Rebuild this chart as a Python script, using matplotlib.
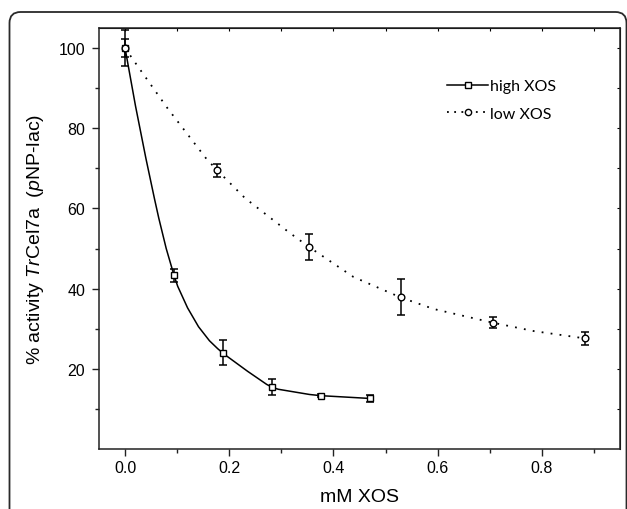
import numpy as np
import matplotlib
matplotlib.use("Agg")
import matplotlib.pyplot as plt
from matplotlib.patches import FancyBboxPatch
from matplotlib.lines import Line2D
from matplotlib.transforms import IdentityTransform

plt.rcParams['font.family'] = ['Liberation Sans', 'DejaVu Sans']
plt.rcParams['mathtext.fontset'] = 'custom'
plt.rcParams['mathtext.rm'] = 'Liberation Sans'
plt.rcParams['mathtext.it'] = 'Liberation Sans:italic'

# measured points (mM XOS, % activity, error)
hi_x = [0.0, 0.094, 0.188, 0.2825, 0.376, 0.471]
hi_y = [100.0, 43.3, 24.0, 15.4, 13.3, 12.6]
hi_err = [4.5, 1.7, 3.1, 2.0, 0.3, 0.85]

lo_x = [0.0, 0.177, 0.353, 0.529, 0.706, 0.882]
lo_y = [100.0, 69.5, 50.4, 37.8, 31.5, 27.6]
lo_err = [2.3, 1.6, 3.2, 4.5, 1.4, 1.7]

# fitted curves
hi_fit_x = [0.0, 0.02, 0.04, 0.0565, 0.0647, 0.079, 0.094, 0.101, 0.12, 0.141, 0.162,
            0.178, 0.188, 0.195, 0.235, 0.272, 0.2825, 0.294, 0.354, 0.376, 0.471]
hi_fit_y = [100, 85.6, 72.5, 62.4, 57.6, 50.0, 43.3, 40.6, 35.2, 30.5, 27.0,
            25.0, 23.9, 23.2, 19.4, 16.1, 15.4, 14.9, 13.6, 13.3, 12.6]

lo_fit_x = [0.0, 0.023, 0.082, 0.156, 0.177, 0.230, 0.314, 0.353,
            0.4385, 0.529, 0.593, 0.706, 0.785, 0.882]
lo_fit_y = [100, 95.7, 84.9, 72.4, 69.5, 62.6, 54.1, 50.4,
            42.9, 37.8, 34.9, 31.5, 29.4, 27.6]

fig = plt.figure(figsize=(6.27, 5.10), dpi=100)

# rounded frame round the figure (pixel coords)
frame = FancyBboxPatch((9.5, -30), 617, 527, boxstyle="round,pad=0,rounding_size=11",
                       transform=IdentityTransform(), fill=False,
                       edgecolor='#2a2a2a', linewidth=1.3)
fig.patches.append(frame)

ax = fig.add_axes([99/627, 60/510, 521/627, 421/510])

ax.plot(hi_fit_x, hi_fit_y, color='black', lw=1.1, zorder=2)
ax.plot(lo_fit_x, lo_fit_y, color='black', lw=1.3, ls=(0, (1, 4)), zorder=2)

ax.errorbar(hi_x, hi_y, yerr=hi_err, fmt='none', ecolor='black', elinewidth=1.1,
            capsize=3.2, capthick=1.1, zorder=3)
ax.errorbar(lo_x, lo_y, yerr=lo_err, fmt='none', ecolor='black', elinewidth=1.1,
            capsize=3.2, capthick=1.1, zorder=3)
ax.plot(hi_x, hi_y, ls='none', marker='s', ms=4, mfc='white', mec='black', mew=1.0, zorder=4)
ax.plot(lo_x, lo_y, ls='none', marker='o', ms=4.8, mfc='white', mec='black', mew=1.0, zorder=5)

ax.set_xlim(-0.05, 0.95)
ax.set_ylim(0, 105)
ax.set_xticks([0.0, 0.2, 0.4, 0.6, 0.8])
ax.set_xticks(np.arange(0.1, 0.95, 0.2), minor=True)
ax.set_yticks([20, 40, 60, 80, 100])
ax.set_yticks([10, 30, 50, 70, 90], minor=True)
ax.xaxis.set_major_formatter(matplotlib.ticker.FormatStrFormatter('%.1f'))
ax.tick_params(axis='both', which='major', direction='out', length=5, width=1.0,
               labelsize=11.5, color='#222222')
ax.tick_params(axis='both', which='minor', direction='out', length=3, width=1.0, color='#222222')
ax.tick_params(axis='x', pad=3)
ax.tick_params(axis='y', pad=5)
for sp in ax.spines.values():
    sp.set_linewidth(1.1)
    sp.set_color('#222222')

top = ax.secondary_xaxis('top')
top.set_xticks(np.arange(0.0, 0.95, 0.1))
top.tick_params(direction='in', length=2, width=0.8, labeltop=False)
right = ax.secondary_yaxis('right')
right.set_yticks(np.arange(10, 105, 10))
right.tick_params(direction='in', length=2, width=0.8, labelright=False)

ax.set_xlabel('mM XOS', fontsize=14, labelpad=9.5)
ax.set_ylabel(r'% activity $\it{Tr}$Cel7a  ($\it{p}$NP-lac)', fontsize=14, labelpad=9)

handles = [
    Line2D([], [], color='black', lw=1.1, marker='s', ms=4, mfc='white', mec='black'),
    Line2D([], [], color='black', lw=1.3, ls=(0, (1, 3)), marker='o', ms=4.5,
           mfc='white', mec='black'),
]
ax.legend(handles, ['high XOS', 'low XOS'], loc='upper left', bbox_to_anchor=(0.64, 0.913),
          frameon=False, handlelength=2.6, handletextpad=0.1, labelspacing=0.85,
          prop={'family': 'Lato', 'size': 11.5})

fig.savefig('out.png', dpi=100)
